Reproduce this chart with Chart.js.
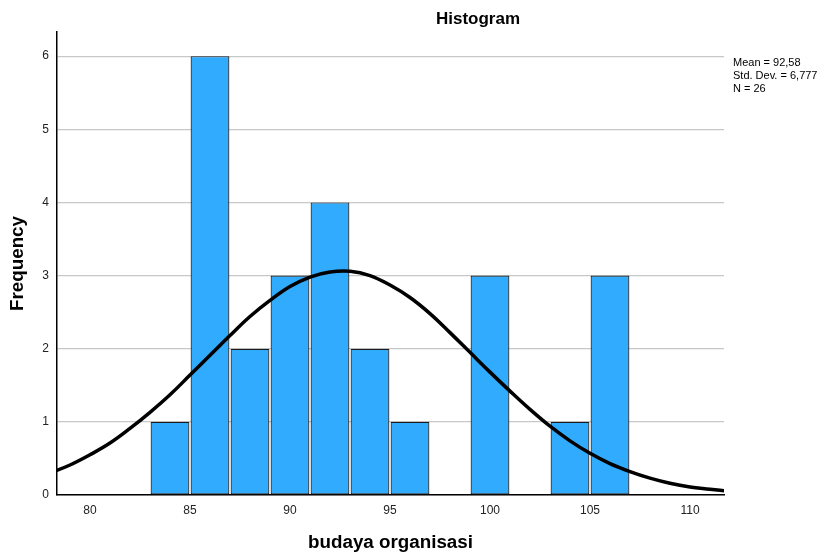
<!DOCTYPE html>
<html>
<head>
<meta charset="utf-8">
<script src="https://cdn.jsdelivr.net/npm/chart.js@4.4.1/dist/chart.umd.min.js"></script>
<style>
  body { margin: 0; background: #fff; }
  #wrap { width: 828px; height: 555px; position: relative; }
</style>
</head>
<body>
<div id="wrap"><canvas id="hist"></canvas></div>
<script>
// dados do histograma (bins de largura 2)
const binMid = [84, 86, 88, 90, 92, 94, 96, 100, 104, 106];
const freq = [1, 6, 2, 3, 4, 2, 1, 3, 1, 3];

// curva normal
const curveX = [78, 79, 80, 81, 82, 83, 84, 85, 86, 87, 88, 89, 90, 91, 92, 93, 94, 95,
    96, 97, 98, 99, 100, 101, 102, 103, 104, 105, 106, 107, 108, 109, 110, 111, 112];
const curveY = [0.30, 0.41, 0.55, 0.71, 0.91, 1.13, 1.37, 1.64, 1.91, 2.18, 2.44, 2.66, 2.85, 2.98, 3.05, 3.06, 3.00, 2.87,
    2.70, 2.48, 2.22, 1.95, 1.68, 1.42, 1.17, 0.94, 0.74, 0.57, 0.43, 0.32, 0.23, 0.16, 0.11, 0.08, 0.05];

const xTicks = [80, 85, 90, 95, 100, 105, 110];
const yTicks = [0, 1, 2, 3, 4, 5, 6];

const statLines = ['Mean = 92,58', 'Std. Dev. = 6,777', 'N = 26'];
const chartTitle = 'Histogram';

const fonte = "Arial, 'Liberation Sans', sans-serif";

// textos extras (titulo e estatisticas) como no SPSS
const textosPlugin = {
    id: 'textos',
    afterDraw(chart) {
        const ctx = chart.ctx;
        const area = chart.chartArea;
        ctx.save();
        ctx.fillStyle = '#000';
        ctx.font = 'bold 17px ' + fonte;
        ctx.textAlign = 'center';
        ctx.textBaseline = 'middle';
        ctx.fillText(chartTitle, 478, 19);
        ctx.font = '11px ' + fonte;
        ctx.textAlign = 'left';
        statLines.forEach((t, i) => {
            ctx.fillText(t, area.right + 9, 63 + i * 13);
        });
        ctx.restore();
    }
};

const dadosHist = {
    datasets: [{
        type: 'line',
        label: 'Normal',
        data: curveX.map((x, i) => ({ x: x, y: curveY[i] })),
        borderColor: '#000',
        borderWidth: 3.5,
        pointRadius: 0,
        tension: 0.4,
        fill: false,
        order: 0
    }, {
        type: 'bar',
        label: 'Frequency',
        data: binMid.map((x, i) => ({ x: x, y: freq[i] })),
        backgroundColor: '#30abfe',
        borderColor: '#1a1a1a',
        borderWidth: 1.2,
        borderSkipped: false,
        barPercentage: 0.97,
        categoryPercentage: 1,
        order: 1
    }]
};

const configHist = {
    type: 'bar',
    data: dadosHist,
    options: {
        responsive: true,
        maintainAspectRatio: false,
        animation: false,
        layout: {
            padding: { left: 0, top: 32, right: 104, bottom: 0 }
        },
        scales: {
            x: {
                type: 'linear',
                min: 78.35,
                max: 111.7,
                offset: false,
                afterFit: (s) => { s.height = 60; },
                afterBuildTicks: (s) => { s.ticks = xTicks.map(v => ({ value: v })); },
                grid: { display: false, offset: false, drawTicks: false },
                border: { display: true, color: '#000', width: 1.5 },
                ticks: {
                    includeBounds: false,
                    padding: 8,
                    color: '#222',
                    font: { size: 12, family: fonte }
                },
                title: {
                    display: true,
                    text: 'budaya organisasi',
                    color: '#000',
                    padding: { top: 0, bottom: 1 },
                    font: { size: 18.8, weight: 'bold', family: fonte }
                }
            },
            y: {
                min: 0,
                max: 6.33,
                afterFit: (s) => { s.width = 57; },
                afterBuildTicks: (s) => { s.ticks = yTicks.map(v => ({ value: v })); },
                grid: { color: '#c8c8c8', lineWidth: 1.2, drawTicks: false },
                border: { display: true, color: '#000', width: 1.5 },
                ticks: {
                    includeBounds: false,
                    padding: 8,
                    color: '#222',
                    font: { size: 12, family: fonte }
                },
                title: {
                    display: true,
                    text: 'Frequency',
                    color: '#000',
                    padding: { top: 7, bottom: 0 },
                    font: { size: 18.8, weight: 'bold', family: fonte }
                }
            }
        },
        plugins: {
            legend: { display: false },
            tooltip: { enabled: false },
            title: { display: false }
        }
    },
    plugins: [textosPlugin]
};

new Chart(document.getElementById('hist').getContext('2d'), configHist);
</script>
</body>
</html>
